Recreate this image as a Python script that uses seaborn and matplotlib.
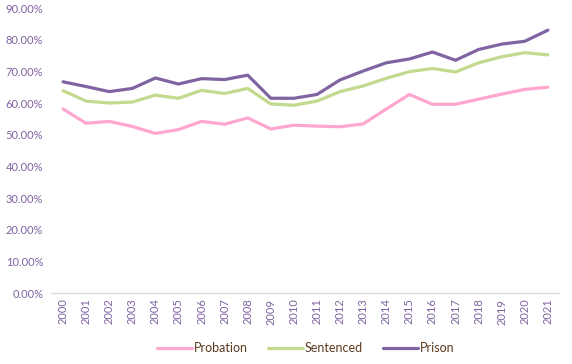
import pandas as pd
import numpy as np
import matplotlib.pyplot as plt
import seaborn as sns
from matplotlib.ticker import PercentFormatter

years = [str(y) for y in range(2000, 2022)]
probation = [58.1, 53.6, 54.2, 52.6, 50.4, 51.6, 54.2, 53.3, 55.3, 51.8, 53.0, 52.7,
             52.5, 53.4, 58.1, 62.7, 59.6, 59.6, 61.2, 62.8, 64.3, 65.0]
sentenced = [63.9, 60.6, 60.0, 60.3, 62.5, 61.5, 64.0, 63.0, 64.6, 59.7, 59.3, 60.6,
             63.6, 65.4, 67.8, 69.9, 70.9, 69.8, 72.7, 74.6, 75.9, 75.2]
prison = [66.7, 65.2, 63.6, 64.6, 67.9, 66.0, 67.7, 67.4, 68.8, 61.5, 61.5, 62.7,
          67.3, 70.1, 72.7, 73.9, 76.1, 73.5, 76.9, 78.6, 79.5, 83.0]

series_names = ["Probation", "Sentenced", "Prison"]
colors = {"Probation": "#FFA6CF", "Sentenced": "#C3D98E", "Prison": "#8064A2"}

df = pd.DataFrame({"year": years, "Probation": probation,
                   "Sentenced": sentenced, "Prison": prison})
long_df = df.melt(id_vars="year", var_name="series", value_name="pct")

sns.set_style("white")
plt.rcParams["font.family"] = ["Lato", "DejaVu Sans"]

fig = plt.figure(figsize=(5.72, 3.64), dpi=100)
ax = fig.add_axes([0.09, 0.195, 0.888, 0.783])

sns.lineplot(data=long_df, x="year", y="pct", hue="series", hue_order=series_names,
             palette=colors, linewidth=2.3, ax=ax, sort=False)

ax.set_xlim(-0.5, len(years) - 0.5)
ax.set_ylim(0, 90)
ax.set_yticks(np.arange(0, 91, 10))
ax.yaxis.set_major_formatter(PercentFormatter(decimals=2))
ax.set_xlabel("")
ax.set_ylabel("")

label_color = "#7E62A0"
ax.tick_params(axis="x", labelrotation=90, colors=label_color, labelsize=8, length=0, pad=4)
ax.tick_params(axis="y", colors=label_color, labelsize=8, length=0, pad=6)
for lbl in ax.get_xticklabels() + ax.get_yticklabels():
    lbl.set_color(label_color)

for side in ["top", "right", "left"]:
    ax.spines[side].set_visible(False)
ax.spines["bottom"].set_color("#D9D9D9")
ax.spines["bottom"].set_linewidth(1)
ax.grid(False)

handles, labels = ax.get_legend_handles_labels()
ax.legend(handles, labels, loc="lower center", bbox_to_anchor=(0.5, -0.255),
          ncol=3, frameon=False, fontsize=9, handlelength=2.8, handletextpad=0.15,
          columnspacing=1.6, labelcolor="#5B3A1E")

plt.savefig("out.png", dpi=100)
plt.close("all")
